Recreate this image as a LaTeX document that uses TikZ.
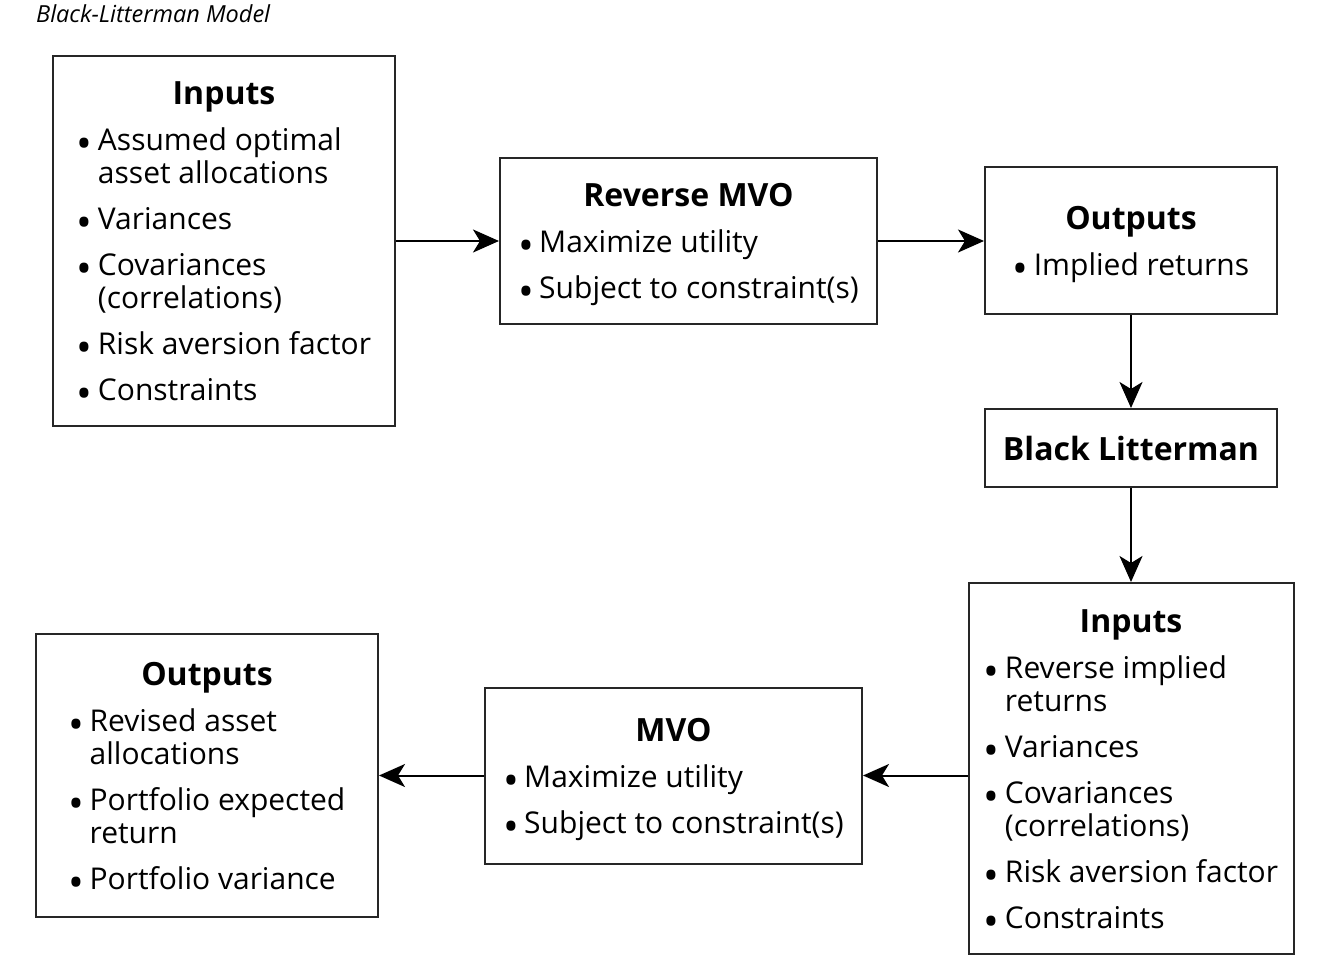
\documentclass[tikz,border=0pt]{standalone}
\usepackage{fontspec,graphicx}
\setmainfont{Open Sans}
\usetikzlibrary{arrows.meta}
\newcommand{\bul}{\makebox[21pt][l]{\raisebox{-8pt}{\scalebox{1.4}{\textbullet}}}}
\newcommand{\ind}{\hspace*{21pt}}
\newcommand{\hd}[1]{\multicolumn{1}{@{}c@{}}{\fontsize{32}{33}\selectfont\bfseries #1}}
\newcommand{\blk}[1]{\raisebox{0pt}[\dimexpr\height+5pt\relax][\dimexpr\depth-5pt\relax]{\begin{tabular}{@{}l@{}}#1\end{tabular}}}

\begin{document}
\begin{tikzpicture}[x=1pt,y=-1pt,
  box/.style={draw=black!85,line width=2pt,inner sep=0pt,font=\fontsize{30}{33}\selectfont},
  arr/.style={-{Stealth[length=26pt,width=23pt,inset=7pt]},line width=2pt}]
\useasboundingbox (0,0) rectangle (1320,968);
\node[anchor=base west,inner sep=0pt,font=\fontsize{23.5}{26}\selectfont\itshape] (title) at (36,23) {Black-Litterman Model};
% top row
\node[box,minimum width=342,minimum height=370] (inA) at (224,241) {\blk{
  \hd{Inputs}\\[13pt]
  \bul Assumed optimal\\
  \ind asset allocations\\[13pt]
  \bul Variances\\[13pt]
  \bul Covariances\\
  \ind (correlations)\\[13pt]
  \bul Risk aversion factor\\[13pt]
  \bul Constraints}};
\node[box,minimum width=377,minimum height=166] (rmvo) at (688.5,241) {\blk{
  \hd{Reverse MVO}\\[13pt]
  \bul Maximize utility\\[13pt]
  \bul Subject to constraint(s)}};
\node[box,minimum width=292,minimum height=147] (outA) at (1131,241) {\blk{
  \hd{Outputs}\\[13pt]
  \bul Implied returns}};
% right column
\node[box,minimum width=292,minimum height=78,font=\fontsize{32}{33}\selectfont\bfseries] (bl) at (1131,448) {Black Litterman};
\node[box,minimum width=325,minimum height=371] (inB) at (1131,768.5) {\blk{
  \hd{Inputs}\\[13pt]
  \bul Reverse implied\\
  \ind returns\\[13pt]
  \bul Variances\\[13pt]
  \bul Covariances\\
  \ind (correlations)\\[13pt]
  \bul Risk aversion factor\\[13pt]
  \bul Constraints}};
% bottom row
\node[box,minimum width=377,minimum height=176] (mvo) at (673.5,775.5) {\blk{
  \hd{MVO}\\[13pt]
  \bul Maximize utility\\[13pt]
  \bul Subject to constraint(s)}};
\node[box,minimum width=342,minimum height=283] (outB) at (207,775.5) {\blk{
  \hd{Outputs}\\[13pt]
  \bul Revised asset\\
  \ind allocations\\[13pt]
  \bul Portfolio expected\\
  \ind return\\[13pt]
  \bul Portfolio variance}};
% arrows
\foreach \a/\b in {inA/rmvo,rmvo/outA,outA/bl,bl/inB,mvo/outB}
  \draw[arr] (\a) -- (\b);
\draw[arr] (inB.west |- mvo.east) -- (mvo.east);
\end{tikzpicture}
\end{document}
